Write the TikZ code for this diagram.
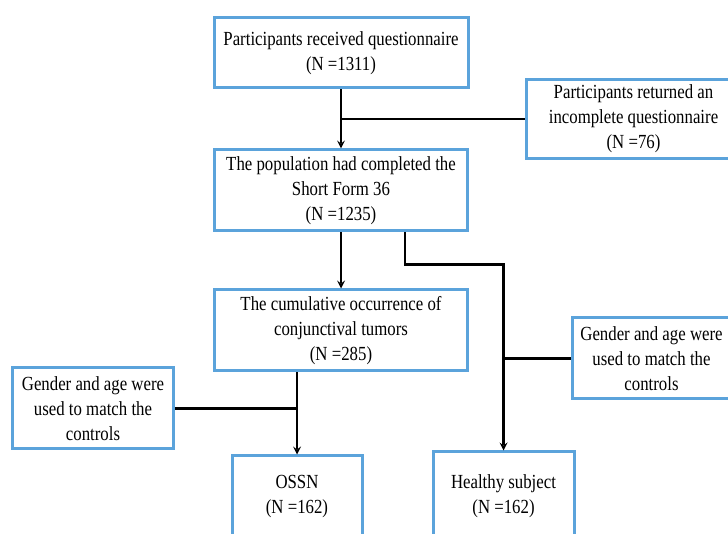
\documentclass[tikz,border=0pt]{standalone}
\usepackage{fontspec}
\setmainfont{Liberation Serif}[FakeStretch=0.84]
\usetikzlibrary{positioning,calc}
\definecolor{boxblue}{RGB}{91,163,219}

\begin{document}
\begin{tikzpicture}[>=stealth, node distance=60pt,
    every node/.style={font=\fontsize{20}{25}\selectfont, align=center},
    flowbox/.style={draw=boxblue, line width=3pt, fill=white, inner sep=2pt, minimum height=81pt},
    link/.style={line width=2.4pt}]
\useasboundingbox (0,0) rectangle (728pt,534pt);
\clip (0,0) rectangle (728pt,534pt);
% main column
\node[flowbox, minimum width=254pt, minimum height=70pt] (recv) at (341pt,481pt) {Participants received questionnaire\\(N =1311)};
\node[flowbox, minimum width=253pt, below=59pt of recv] (complete) {The population had completed the\\Short Form 36\\(N =1235)};
\node[flowbox, minimum width=253pt, below=56pt of complete] (tumor) {The cumulative occurrence of\\conjunctival tumors\\(N =285)};
\node[flowbox, minimum width=130pt, minimum height=82pt, below=82pt of tumor, xshift=-44pt] (ossn) {OSSN\\(N =162)};
\node[flowbox, minimum width=141pt, minimum height=88pt, below=78pt of tumor, xshift=162.5pt] (healthy) {Healthy subject\\(N =162)};
% side boxes
\coordinate (split1) at ($(recv.south)!0.5!(complete.north)$);
\node[flowbox, minimum width=214pt, minimum height=79pt, right=184pt of split1] (incomplete) {Participants returned an\\incomplete questionnaire\\(N =76)};
\node[flowbox, minimum width=161pt, left=38pt of tumor, yshift=-78pt] (lmatch) {Gender and age were\\used to match the\\controls};
\node[flowbox, minimum width=158pt, right=102pt of tumor, yshift=-28pt] (rmatch) {Gender and age were\\used to match the\\controls};
% connectors
\coordinate (split2) at ($(complete.south)+(64pt,0)$);
\draw[link,->] (recv) -- (complete);
\draw[link] (split1) -- (incomplete);
\draw[link,->] (complete) -- (tumor);
\draw[link,->] (split2) -- ++(0,-32pt) -| (healthy.north);
\draw[link] (rmatch.west) -- (rmatch.west -| healthy.north);
\draw[link,->] (tumor.south -| ossn.north) -- (ossn);
\draw[link] (lmatch.east) -- (lmatch.east -| ossn.north);
\end{tikzpicture}
\end{document}
